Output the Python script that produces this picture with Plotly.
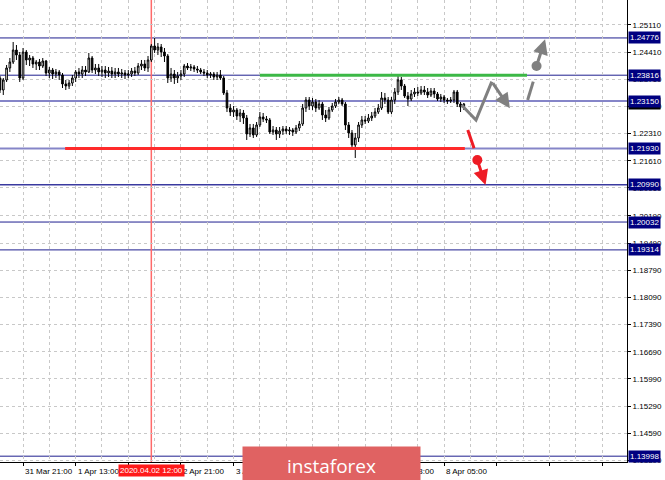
import plotly.graph_objects as go

# ---------------- data ----------------
bar_index = list(range(-7, 135))
close = [1.23435, 1.23693, 1.24002, 1.24156, 1.24465, 1.24337, 1.23744,
         1.24414, 1.24208, 1.24259, 1.24105, 1.24156, 1.24053, 1.24182, 1.23873, 1.23950, 1.23847,
         1.23899, 1.23821, 1.23590, 1.23538, 1.23615, 1.23744, 1.23899, 1.23847, 1.23950, 1.23899,
         1.24259, 1.23950, 1.24002, 1.23899, 1.23950, 1.23873, 1.23924, 1.23847, 1.23899, 1.23847,
         1.23873, 1.23821, 1.23847, 1.23924, 1.23873, 1.24053, 1.24105, 1.24002, 1.24208, 1.24569,
         1.24465, 1.24543, 1.24414, 1.24311, 1.23744, 1.23847, 1.23744, 1.23796, 1.23847, 1.24053,
         1.24002, 1.24027, 1.23976, 1.23950, 1.23899, 1.23873, 1.23821, 1.23847, 1.23770, 1.23821,
         1.23744, 1.23358, 1.22971, 1.22868, 1.22920, 1.22765, 1.22842, 1.22713, 1.22301, 1.22456,
         1.22276, 1.22533, 1.22739, 1.22688, 1.22662, 1.22352, 1.22404, 1.22301, 1.22378, 1.22430,
         1.22378, 1.22404, 1.22352, 1.22456, 1.22559, 1.22971, 1.23177, 1.23022, 1.23126, 1.22971,
         1.23074, 1.22791, 1.22713, 1.22920, 1.23022, 1.23126, 1.23177, 1.23074, 1.22533, 1.22327,
         1.22018, 1.22198, 1.22533, 1.22662, 1.22636, 1.22713, 1.22765, 1.22868, 1.22971, 1.23229,
         1.23177, 1.22868, 1.23177, 1.23383, 1.23693, 1.23538, 1.23280, 1.23203, 1.23332, 1.23383,
         1.23358, 1.23435, 1.23383, 1.23306, 1.23409, 1.23332, 1.23203, 1.23254, 1.23177, 1.23151,
         1.23177, 1.23383, 1.23074, 1.22997, 1.23074]
high = [1.23796, 1.23744, 1.24079, 1.24259, 1.24672, 1.24594, 1.24414,
        1.24517, 1.24465, 1.24337, 1.24311, 1.24208, 1.24234, 1.24259, 1.24208, 1.24027, 1.24002,
        1.23976, 1.23950, 1.23873, 1.23693, 1.23693, 1.23821, 1.23950, 1.24002, 1.24053, 1.24053,
        1.24388, 1.24311, 1.24105, 1.24105, 1.24053, 1.24053, 1.24027, 1.24027, 1.24002, 1.24002,
        1.23976, 1.23950, 1.23950, 1.24002, 1.24027, 1.24130, 1.24208, 1.24208, 1.24311, 1.24620,
        1.24775, 1.24646, 1.24620, 1.24517, 1.24362, 1.24002, 1.23950, 1.23899, 1.23950, 1.24105,
        1.24130, 1.24105, 1.24079, 1.24053, 1.24002, 1.23976, 1.23950, 1.23899, 1.23899, 1.23899,
        1.23950, 1.23796, 1.23435, 1.23074, 1.23022, 1.22971, 1.22945, 1.22920, 1.22791, 1.22559,
        1.22559, 1.22610, 1.22868, 1.22842, 1.22765, 1.22713, 1.22507, 1.22481, 1.22481, 1.22507,
        1.22507, 1.22481, 1.22456, 1.22533, 1.22636, 1.23074, 1.23254, 1.23254, 1.23229, 1.23203,
        1.23177, 1.23126, 1.22920, 1.22997, 1.23100, 1.23203, 1.23254, 1.23229, 1.23126, 1.22610,
        1.22404, 1.22327, 1.22610, 1.22765, 1.22765, 1.22816, 1.22868, 1.22971, 1.23074, 1.23383,
        1.23358, 1.23254, 1.23254, 1.23486, 1.23821, 1.23770, 1.23590, 1.23383, 1.23435, 1.23486,
        1.23512, 1.23538, 1.23538, 1.23486, 1.23486, 1.23486, 1.23383, 1.23332, 1.23306, 1.23229,
        1.23254, 1.23435, 1.23435, 1.23126, 1.23100]
low = [1.23358, 1.23306, 1.23641, 1.23899, 1.24105, 1.24208, 1.23641,
       1.23693, 1.24079, 1.24053, 1.24002, 1.23950, 1.23950, 1.24002, 1.23796, 1.23744, 1.23718,
       1.23744, 1.23693, 1.23486, 1.23435, 1.23461, 1.23538, 1.23641, 1.23744, 1.23744, 1.23796,
       1.23873, 1.23873, 1.23847, 1.23796, 1.23770, 1.23744, 1.23770, 1.23744, 1.23744, 1.23770,
       1.23744, 1.23718, 1.23744, 1.23770, 1.23796, 1.23821, 1.23950, 1.23924, 1.23899, 1.24156,
       1.24388, 1.24337, 1.24285, 1.24156, 1.23615, 1.23641, 1.23590, 1.23615, 1.23693, 1.23770,
       1.23950, 1.23924, 1.23899, 1.23873, 1.23847, 1.23796, 1.23744, 1.23744, 1.23693, 1.23693,
       1.23693, 1.23306, 1.22868, 1.22765, 1.22739, 1.22662, 1.22610, 1.22559, 1.22147, 1.22224,
       1.22198, 1.22224, 1.22481, 1.22610, 1.22584, 1.22301, 1.22276, 1.22147, 1.22198, 1.22276,
       1.22301, 1.22276, 1.22250, 1.22301, 1.22378, 1.22507, 1.22868, 1.22920, 1.22920, 1.22868,
       1.22920, 1.22662, 1.22610, 1.22662, 1.22868, 1.22971, 1.23074, 1.23022, 1.22404, 1.22198,
       1.21940, 1.21683, 1.22095, 1.22456, 1.22559, 1.22584, 1.22636, 1.22713, 1.22816, 1.22920,
       1.23074, 1.22816, 1.22816, 1.23074, 1.23306, 1.23435, 1.23229, 1.23022, 1.23151, 1.23254,
       1.23280, 1.23306, 1.23306, 1.23229, 1.23254, 1.23229, 1.23151, 1.23126, 1.23100, 1.23074,
       1.23100, 1.23100, 1.22997, 1.22868, 1.22920]
first_open = 1.23744
open_ = [first_open] + close[:-1]   # hourly FX bars open at the previous close

# axis ticks
price_ticks = [1.25110, 1.24410, 1.23710, 1.23010, 1.22310, 1.21610, 1.20910, 1.20190,
               1.19490, 1.18790, 1.18090, 1.17390, 1.16690, 1.15990, 1.15290, 1.14590, 1.13890]
price_tick_text = ["1.25110", "1.24410", "1.23710", "1.23010", "1.22310", "1.21610", "1.20910",
                   "1.20190", "1.19490", "1.18790", "1.18090", "1.17390", "1.16690", "1.15990",
                   "1.15290", "1.14590", "1.13890"]
# time labels visible (fully or partly) in the chart
time_tick_index = [-16, 0, 16, 48, 64, 112, 128]
time_tick_text = ["31 Mar 05:00", "31 Mar 21:00", "1 Apr 13:00", "2 Apr 21:00",
                  "3 Apr 13:00", "7 Apr 13:00", "8 Apr 05:00"]

# horizontal levels
levels = [1.24776, 1.23816, 1.23150, 1.21930, 1.20990, 1.20032, 1.19314, 1.13998]
level_text = ["1.24776", "1.23816", "1.23150", "1.21930", "1.20990", "1.20032", "1.19314", "1.13998"]
level_style = ["dark", "dark", "light", "light", "mid", "dark", "dark", "dark"]
current_price = 1.23074
current_text = "1.23074"

# marked period
marker_index = 39
marker_text = "2020.04.02 12:00"

# trend segments
green_level = 1.23816
green_span = [72, 153.2]
red_level = 1.21930
red_span = [12.8, 134.3]

# forecast drawings (bar index, price)
zigzag_x = [133.3, 137.7, 142.5]
zigzag_y = [1.23048, 1.22662, 1.23649]
zigzag_tip = (148.0, 1.22963)
up_seg_x = [153.4, 155.1]
up_seg_y = [1.23177, 1.23649]
up_dot = (156.1, 1.24053)
up_tip = (158.7, 1.24741)
down_seg_x = [135.2, 137.1]
down_seg_y = [1.22404, 1.21933]
down_dot = (138.1, 1.21631)
down_tip = (140.6, 1.20986)

# ---------------- figure ----------------
W, H = 665, 480
ML, MR, MT, MB = 0, 38, 0, 18
X_RANGE = [-7.0, 183.6]
Y_RANGE = [1.13848, 1.25754]

fig = go.Figure()

style_map = {"dark": ("#1f1f8f", 1), "mid": ("#3a3aa0", 1.5), "light": ("#8585c8", 2)}
for lv, st in zip(levels, level_style):
    c, w = style_map[st]
    fig.add_shape(type="line", xref="paper", x0=0, x1=1, yref="y", y0=lv, y1=lv,
                  line=dict(color=c, width=w), layer="below")

# red vertical marker
fig.add_shape(type="line", xref="x", x0=marker_index, x1=marker_index, yref="paper", y0=0, y1=1,
              line=dict(color="#ff6a6a", width=1.5), layer="below")

fig.add_trace(go.Candlestick(
    x=bar_index, open=open_, high=high, low=low, close=close,
    increasing=dict(line=dict(color="black", width=1), fillcolor="white"),
    decreasing=dict(line=dict(color="black", width=1), fillcolor="black"),
    whiskerwidth=0, showlegend=False, hoverinfo="skip"))

# green and red segments
fig.add_shape(type="line", x0=green_span[0], x1=green_span[1], y0=green_level, y1=green_level,
              line=dict(color="#3cb846", width=3))
fig.add_shape(type="line", x0=red_span[0], x1=red_span[1], y0=red_level, y1=red_level,
              line=dict(color="#ff2a2a", width=3))

# forecast zigzag
fig.add_trace(go.Scatter(x=zigzag_x, y=zigzag_y, mode="lines",
                         line=dict(color="#808080", width=3), showlegend=False, hoverinfo="skip"))
fig.add_annotation(x=zigzag_tip[0], y=zigzag_tip[1], ax=zigzag_x[-1], ay=zigzag_y[-1],
                   xref="x", yref="y", axref="x", ayref="y", text="", showarrow=True,
                   arrowhead=2, arrowsize=1, arrowwidth=3, arrowcolor="#808080")
# up scenario
fig.add_trace(go.Scatter(x=up_seg_x, y=up_seg_y, mode="lines",
                         line=dict(color="#808080", width=3), showlegend=False, hoverinfo="skip"))
fig.add_trace(go.Scatter(x=[up_dot[0]], y=[up_dot[1]], mode="markers",
                         marker=dict(color="#808080", size=10), showlegend=False, hoverinfo="skip"))
fig.add_annotation(x=up_tip[0], y=up_tip[1], ax=up_dot[0], ay=up_dot[1],
                   xref="x", yref="y", axref="x", ayref="y", text="", showarrow=True,
                   arrowhead=2, arrowsize=1, arrowwidth=3, arrowcolor="#808080")
# down scenario
fig.add_trace(go.Scatter(x=down_seg_x, y=down_seg_y, mode="lines",
                         line=dict(color="#ee1c25", width=3), showlegend=False, hoverinfo="skip"))
fig.add_trace(go.Scatter(x=[down_dot[0]], y=[down_dot[1]], mode="markers",
                         marker=dict(color="#ee1c25", size=10), showlegend=False, hoverinfo="skip"))
fig.add_annotation(x=down_tip[0], y=down_tip[1], ax=down_dot[0], ay=down_dot[1],
                   xref="x", yref="y", axref="x", ayref="y", text="", showarrow=True,
                   arrowhead=2, arrowsize=1, arrowwidth=3, arrowcolor="#ee1c25")

FONT = "Liberation Sans, Arial, sans-serif"

# price-level labels on the right axis
fig.add_annotation(x=1, xref="paper", xanchor="left", xshift=1, y=current_price, yref="y",
                   text=current_text, showarrow=False, bgcolor="black",
                   font=dict(color="white", size=8, family=FONT), borderpad=1)
for lv, t in zip(levels, level_text):
    fig.add_annotation(x=1, xref="paper", xanchor="left", xshift=1, y=lv, yref="y",
                       text=t, showarrow=False, bgcolor="#000080",
                       font=dict(color="white", size=8, family=FONT), borderpad=1)

# time labels (left-aligned at their tick)
for xi, t in zip(time_tick_index, time_tick_text):
    fig.add_annotation(x=xi, xref="x", xanchor="left", y=0, yref="paper", yanchor="top",
                       yshift=-3, text=t, showarrow=False,
                       font=dict(color="black", size=8, family=FONT))
fig.add_annotation(x=marker_index, xref="x", xanchor="center", y=0, yref="paper", yanchor="top",
                   yshift=-2, text=marker_text, showarrow=False, bgcolor="#ff1a1a",
                   font=dict(color="white", size=8, family=FONT), borderpad=1)

# watermark (drawn last so it covers the labels underneath)
plot_w = W - ML - MR
plot_h = H - MT - MB
wm_x0, wm_x1, wm_y0, wm_y1 = 243, 420, 447, 484
fig.add_annotation(x=(wm_x0 + wm_x1) / 2 / plot_w, xref="paper", xanchor="center",
                   y=(plot_h - (wm_y0 + wm_y1) / 2) / plot_h, yref="paper", yanchor="middle",
                   text="instaforex", showarrow=False, width=wm_x1 - wm_x0,
                   height=wm_y1 - wm_y0, borderpad=0, bgcolor="rgb(224,98,98)",
                   align="center", valign="middle",
                   font=dict(color="white", size=19, family="Open Sans, sans-serif"))

fig.update_layout(
    width=W, height=H, margin=dict(l=ML, r=MR, t=MT, b=MB),
    paper_bgcolor="white", plot_bgcolor="white", showlegend=False,
    xaxis=dict(range=X_RANGE, rangeslider=dict(visible=False), tickmode="linear", tick0=0,
               dtick=16, showticklabels=False, ticks="outside", ticklen=3, tickcolor="black",
               showgrid=True, gridcolor="#c8c8c8", griddash="3px,3px", gridwidth=1,
               minor=dict(tick0=0, dtick=8, showgrid=True, gridcolor="#c8c8c8",
                          griddash="3px,3px", ticks=""),
               showline=True, linecolor="black", linewidth=1, zeroline=False, fixedrange=True),
    yaxis=dict(range=Y_RANGE, side="right", tickmode="array", tickvals=price_ticks,
               ticktext=price_tick_text, ticks="outside", ticklen=3, tickcolor="black",
               tickfont=dict(size=8, color="black", family=FONT),
               showgrid=True, gridcolor="#c8c8c8", griddash="3px,3px", gridwidth=1,
               showline=True, linecolor="black", linewidth=1, zeroline=False, fixedrange=True),
)

fig.write_html("out.html", config={"displayModeBar": False},
               post_script="document.body.style.margin='0px';")
